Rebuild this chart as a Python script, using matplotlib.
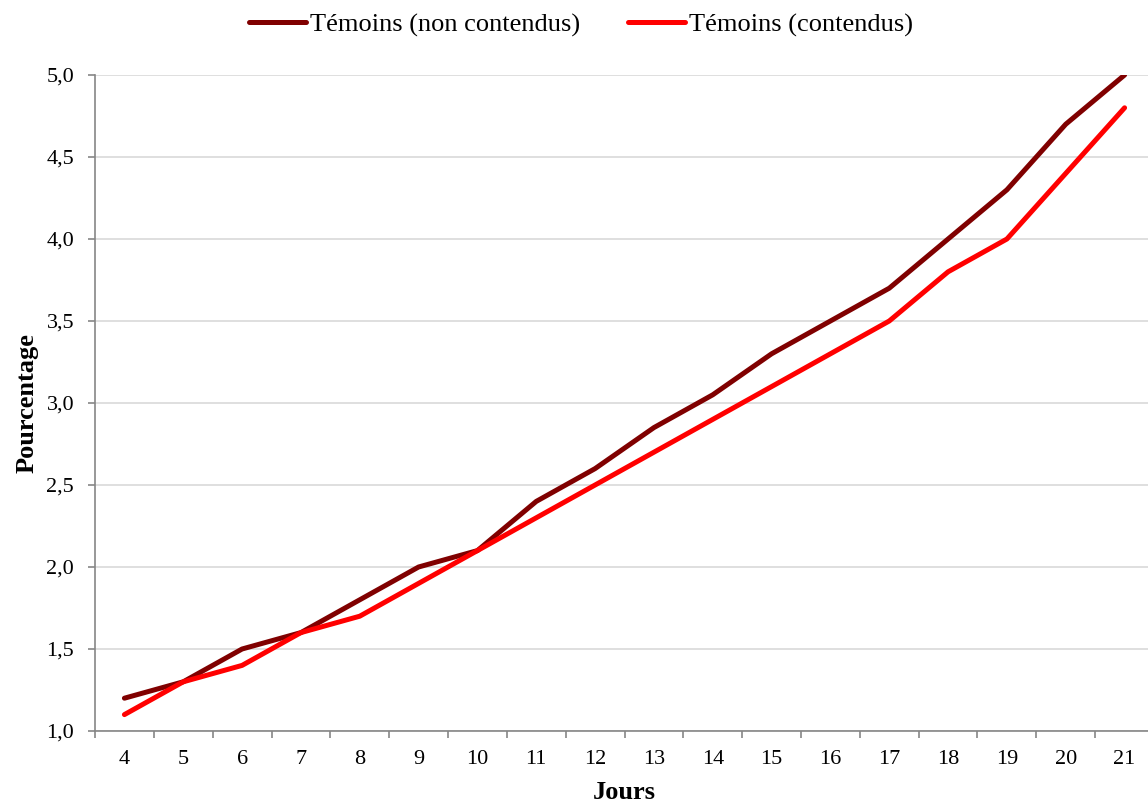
import numpy as np
import matplotlib
matplotlib.use('Agg')
import matplotlib.pyplot as plt

plt.rcParams['font.family'] = ['Liberation Serif', 'DejaVu Serif']

jours = [4, 5, 6, 7, 8, 9, 10, 11, 12, 13, 14, 15, 16, 17, 18, 19, 20, 21]
non_contendus = [1.2, 1.3, 1.5, 1.6, 1.8, 2.0, 2.1, 2.4, 2.6, 2.85, 3.05, 3.3,
                 3.5, 3.7, 4.0, 4.3, 4.7, 5.0]
contendus = [1.1, 1.3, 1.4, 1.6, 1.7, 1.9, 2.1, 2.3, 2.5, 2.7, 2.9, 3.1,
             3.3, 3.5, 3.8, 4.0, 4.4, 4.8]
labels = ['Témoins (non contendus)', 'Témoins (contendus)']
yticks = [1.0, 1.5, 2.0, 2.5, 3.0, 3.5, 4.0, 4.5, 5.0]

W, H = 1148, 805
fig = plt.figure(figsize=(W/100, H/100), dpi=100)
left, right, top, bottom = 95, 1154, 75, 731
ax = fig.add_axes([left/W, 1-bottom/H, (right-left)/W, (bottom-top)/H])

pos = np.arange(len(jours))
ax.plot(pos, non_contendus, color='#800000', lw=3.6, solid_capstyle='round',
        label=labels[0], zorder=3)
ax.plot(pos, contendus, color='#ff0000', lw=3.6, solid_capstyle='round',
        label=labels[1], zorder=3)

ax.set_xlim(-0.5, len(jours)-0.5)
ax.set_ylim(1.0, 5.0)
ax.set_xticks(pos)
ax.set_xticklabels([str(j) for j in jours], fontsize=16)
ax.set_xticks(np.arange(len(jours)+1)-0.5, minor=True)
ax.tick_params(axis='x', which='major', length=0, pad=14)
ax.tick_params(axis='x', which='minor', length=5, width=1.2, color='#868686')
ax.set_yticks(yticks)
ax.set_yticklabels([('%.1f' % v).replace('.', ',') for v in yticks], fontsize=16)
ax.tick_params(axis='y', length=5, width=1.2, color='#868686', pad=10)

ax.grid(axis='y', color='#d9d9d9', lw=1.2, zorder=0)
for s in ['top', 'right']:
    ax.spines[s].set_visible(False)
for s in ['left', 'bottom']:
    ax.spines[s].set_color('#868686')
    ax.spines[s].set_linewidth(1.2)

ax.set_xlabel('Jours', fontsize=19, fontweight='bold', labelpad=8)
ax.set_ylabel('Pourcentage', fontsize=19, fontweight='bold', labelpad=6)

fig.legend(loc='center', bbox_to_anchor=(581/W, 1-25/H), ncol=2, frameon=False,
           fontsize=19, handlelength=2.15, handletextpad=0.15, columnspacing=1.85)

fig.savefig('out.png', dpi=100)
